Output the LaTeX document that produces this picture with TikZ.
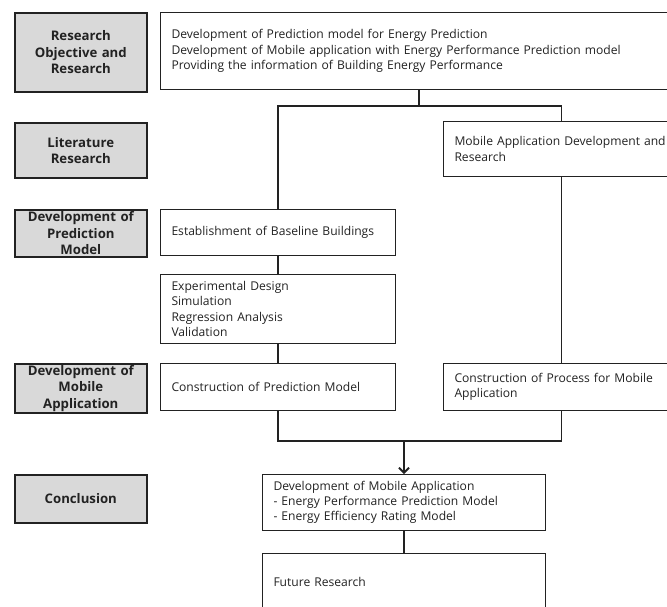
\documentclass[tikz,border=0pt]{standalone}
\usepackage{fontspec}
\setmainfont{Open Sans}
\usetikzlibrary{arrows.meta}
\definecolor{gfill}{HTML}{D9D9D9}
\definecolor{ink}{HTML}{222222}
\tikzset{
  gbox/.style={draw=ink, line width=1.6pt, fill=gfill, anchor=north west, align=center,
    inner xsep=1pt, inner ysep=0pt, font=\fontsize{13.2}{16.5}\selectfont\bfseries, text=ink},
  wbox/.style={draw=ink, line width=1pt, fill=white, anchor=north west, align=left,
    inner xsep=11pt, inner ysep=0pt, font=\fontsize{12.1}{15.2}\selectfont, text=ink},
  conn/.style={draw=ink, line width=1.8pt}
}
\newcommand{\gb}[6]{\node[gbox, minimum width={#4-#2}, minimum height={#5-#3}, text width={#4-#2-2}] (#1) at (#2,#3) {#6};}
\newcommand{\wb}[6]{\node[wbox, minimum height={#5-#3}, text width={#4-#2-22}] (#1) at (#2,#3) {#6};}
\begin{document}
\begin{tikzpicture}[x=1pt,y=-1pt]
\useasboundingbox (0,0) rectangle (667,606);
% left column
\gb{g1}{14}{12}{146}{91}{Research\\Objective and\\Research}
\gb{g2}{14}{122}{146}{177}{Literature\\Research}
\gb{g3}{14}{209}{146}{256}{Development of\\Prediction\\Model}
\gb{g4}{14}{363}{146}{412}{Development of\\Mobile\\Application}
\gb{g5}{14}{474}{146}{522}{Conclusion}
% content boxes
\wb{top}{160}{12}{678}{89}{Development of Prediction model for Energy Prediction\\Development of Mobile application with Energy Performance Prediction model\\Providing the information of Building Energy Performance}
\wb{mob}{443}{121}{679}{176}{Mobile Application Development and\\Research}
\wb{est}{160}{209}{395}{255}{Establishment of Baseline Buildings}
\wb{exp}{160}{274}{395}{343}{Experimental Design\\Simulation\\Regression Analysis\\Validation}
\wb{cpm}{160}{363}{395}{410}{Construction of Prediction Model}
\wb{cpr}{443}{363}{679}{410}{Construction of Process for Mobile\\Application}
\wb{dma}{262}{474}{545}{530}{Development of Mobile Application\\- Energy Performance Prediction Model\\- Energy Efficiency Rating Model}
\wb{fut}{262}{553}{545}{609}{Future Research}
% connectors
\coordinate (j1) at (419,106);
\coordinate (j2) at (404,441);
\draw[conn] (top.south -| j1) -- (j1);
\draw[conn] (est.north) -- (est.north |- j1) -- (mob.north |- j1) -- (mob.north);
\draw[conn] (est.south) -- (exp.north);
\draw[conn] (exp.south) -- (cpm.north);
\draw[conn] (mob.south) -- (cpr.north);
\draw[conn] (cpm.south) -- (cpm.south |- j2) -- (cpr.south |- j2) -- (cpr.south);
\draw[conn, -{Straight Barb[length=5pt,width=10pt,line width=1.8pt]}] (j2) -- (dma.north);
\draw[conn] (dma.south) -- (fut.north);
\end{tikzpicture}
\end{document}
